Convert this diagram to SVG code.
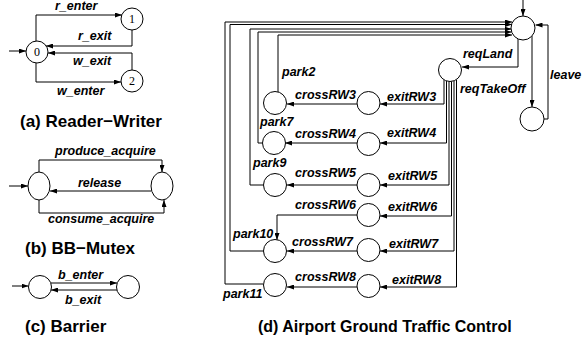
<svg xmlns="http://www.w3.org/2000/svg" width="582" height="345" viewBox="0 0 582 345">
<style>
.n{fill:#fff;stroke:#000;stroke-width:1}
.e{fill:none;stroke:#000;stroke-width:1}
.l{font-family:"Liberation Sans",Arial,Helvetica,sans-serif;font-weight:bold;font-style:italic;font-size:12.5px;fill:#000}
.c{font-family:"Liberation Sans",Arial,Helvetica,sans-serif;font-weight:bold;font-size:17px;fill:#000}
.s{font-family:"Liberation Serif","Times New Roman",serif;font-size:12px;fill:#000;text-anchor:middle}
</style>
<defs>
<marker id="ah" viewBox="0 0 7 5" refX="7" refY="2.5" markerWidth="7" markerHeight="5" orient="auto" markerUnits="userSpaceOnUse">
<path d="M0,0 L7,2.5 L0,5 z" fill="#000"/>
</marker>
</defs>
<g id="connectors">
<!-- (a) Reader-Writer -->
<path class="e" d="M9,51 H26" marker-end="url(#ah)"/>
<path class="e" d="M36,41 V15 H122" marker-end="url(#ah)"/>
<path class="e" d="M132,30 V46 H46" marker-end="url(#ah)"/>
<path class="e" d="M132,70 V53 H48" marker-end="url(#ah)"/>
<path class="e" d="M36,63 V82 H121" marker-end="url(#ah)"/>
<!-- (b) BB-Mutex -->
<path class="e" d="M9,186 H28" marker-end="url(#ah)"/>
<path class="e" d="M39,172 V160 H162 V172" marker-end="url(#ah)"/>
<path class="e" d="M151,191 H50" marker-end="url(#ah)"/>
<path class="e" d="M39,200 V213 H164 V200" marker-end="url(#ah)"/>
<!-- (c) Barrier -->
<path class="e" d="M12,286 H28.5" marker-end="url(#ah)"/>
<path class="e" d="M51,283 H117" marker-end="url(#ah)"/>
<path class="e" d="M117,290 H51" marker-end="url(#ah)"/>
<!-- (d) Airport -->
<path class="e" d="M523,0 V16" marker-end="url(#ah)"/>
<path class="e" d="M263,284 H225 V22 H512" marker-end="url(#ah)"/>
<path class="e" d="M263,251 H230 V24.5 H512" marker-end="url(#ah)"/>
<path class="e" d="M263,185 H250 V29 H511.5" marker-end="url(#ah)"/>
<path class="e" d="M262,143 H258 V32 H511.5" marker-end="url(#ah)"/>
<path class="e" d="M278,92 V35 H512" marker-end="url(#ah)"/>
<path class="e" d="M518,39 V67 H462" marker-end="url(#ah)"/>
<path class="e" d="M532,36 V107" marker-end="url(#ah)"/>
<path class="e" d="M544,119 H548 V25 H535.5" marker-end="url(#ah)"/>
<path class="e" d="M444,80 V104 H380" marker-end="url(#ah)"/>
<path class="e" d="M446.5,80 V143 H380" marker-end="url(#ah)"/>
<path class="e" d="M449,80 V185 H380" marker-end="url(#ah)"/>
<path class="e" d="M451.5,80 V216 H380" marker-end="url(#ah)"/>
<path class="e" d="M454,80 V251 H380" marker-end="url(#ah)"/>
<path class="e" d="M456.5,80 V287 H380" marker-end="url(#ah)"/>
<path class="e" d="M357,104 H287" marker-end="url(#ah)"/>
<path class="e" d="M357,143 H285" marker-end="url(#ah)"/>
<path class="e" d="M357,185 H287" marker-end="url(#ah)"/>
<path class="e" d="M357,215 H277 V240" marker-end="url(#ah)"/>
<path class="e" d="M357,251 H287" marker-end="url(#ah)"/>
<path class="e" d="M357,287 H287" marker-end="url(#ah)"/>
</g>
<g id="edge-labels">
<text class="l" x="55" y="10">r_enter</text>
<text class="l" x="78" y="40">r_exit</text>
<text class="l" x="73" y="65">w_exit</text>
<text class="l" x="57" y="95">w_enter</text>
<text class="l" x="55" y="155">produce_acquire</text>
<text class="l" x="78" y="187">release</text>
<text class="l" x="48" y="223">consume_acquire</text>
<text class="l" x="58" y="279">b_enter</text>
<text class="l" x="65" y="304">b_exit</text>
<text class="l" x="282" y="76">park2</text>
<text class="l" x="260" y="126">park7</text>
<text class="l" x="253" y="167">park9</text>
<text class="l" x="233" y="238">park10</text>
<text class="l" x="223" y="298">park11</text>
<text class="l" x="356" y="99" text-anchor="end">crossRW3</text>
<text class="l" x="356" y="138" text-anchor="end">crossRW4</text>
<text class="l" x="356" y="177" text-anchor="end">crossRW5</text>
<text class="l" x="356" y="209" text-anchor="end">crossRW6</text>
<text class="l" x="353" y="246" text-anchor="end">crossRW7</text>
<text class="l" x="356" y="281" text-anchor="end">crossRW8</text>
<text class="l" x="387" y="101">exitRW3</text>
<text class="l" x="387" y="137">exitRW4</text>
<text class="l" x="388" y="180">exitRW5</text>
<text class="l" x="388" y="211">exitRW6</text>
<text class="l" x="389" y="248">exitRW7</text>
<text class="l" x="392" y="284">exitRW8</text>
<text class="l" x="463" y="58">reqLand</text>
<text class="l" x="460" y="93">reqTakeOff</text>
<text class="l" x="550" y="79">leave</text>
</g>
<g id="rw0"><circle class="n" cx="37" cy="52" r="11"/><text class="s" x="37" y="56">0</text></g>
<g id="rw1"><circle class="n" cx="132" cy="19" r="11"/><text class="s" x="132" y="23">1</text></g>
<g id="rw2"><circle class="n" cx="132" cy="81" r="11"/><text class="s" x="132" y="85">2</text></g>
<g id="bb0"><ellipse class="n" cx="39" cy="186" rx="11" ry="14"/></g>
<g id="bb1"><ellipse class="n" cx="162" cy="186" rx="11" ry="14"/></g>
<g id="br0"><circle class="n" cx="40" cy="287" r="11.5"/></g>
<g id="br1"><circle class="n" cx="128" cy="287" r="11.5"/></g>
<g id="top"><circle class="n" cx="523" cy="28" r="12"/></g>
<g id="land"><circle class="n" cx="450" cy="70" r="11.5"/></g>
<g id="takeoff"><circle class="n" cx="532" cy="119" r="12"/></g>
<g id="park2"><circle class="n" cx="275" cy="103" r="11.5"/></g>
<g id="park7"><circle class="n" cx="274" cy="143" r="11.5"/></g>
<g id="park9"><circle class="n" cx="275" cy="185" r="11.5"/></g>
<g id="park10"><circle class="n" cx="275" cy="251" r="11.5"/></g>
<g id="park11"><circle class="n" cx="275" cy="285" r="11.5"/></g>
<g id="cross3"><circle class="n" cx="368.5" cy="103" r="11.5"/></g>
<g id="cross4"><circle class="n" cx="368.5" cy="144" r="11.5"/></g>
<g id="cross5"><circle class="n" cx="368.5" cy="185" r="11.5"/></g>
<g id="cross6"><circle class="n" cx="368.5" cy="215" r="11.5"/></g>
<g id="cross7"><circle class="n" cx="368.5" cy="250" r="11.5"/></g>
<g id="cross8"><circle class="n" cx="368.5" cy="286" r="11.5"/></g>
<g id="captions">
<text class="c" x="20" y="127">(a) Reader−Writer</text>
<text class="c" x="25" y="254">(b) BB−Mutex</text>
<text class="c" x="25" y="332">(c) Barrier</text>
<text class="c" x="258" y="332" style="font-size:16px">(d) Airport Ground Traffic Control</text>
</g>
</svg>
